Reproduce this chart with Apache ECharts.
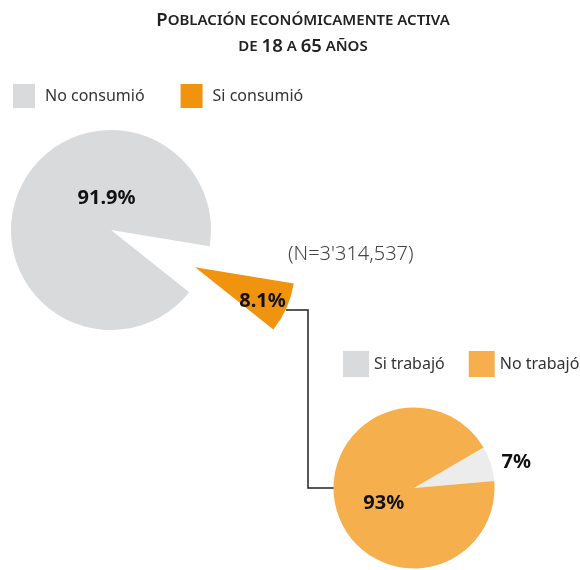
<!DOCTYPE html>
<html>
<head>
<meta charset="utf-8">
<script src="https://cdn.jsdelivr.net/npm/echarts@6/dist/echarts.min.js"></script>
<style>
  html, body { margin: 0; padding: 0; background: #fff; }
  #chart { width: 580px; height: 570px; }
</style>
</head>
<body>
<div id="chart"></div>
<script>
// datos
const consumoNames = ['No consumió', 'Si consumió'];
const consumoValues = [91.9, 8.1];
const trabajoNames = ['Si trabajó', 'No trabajó'];
const trabajoValues = [7, 93];
const totalLabel = "(N=3'314,537)";

const FONT = 'Noto Sans';
const chart = echarts.init(document.getElementById('chart'), null, { renderer: 'canvas' });

// desplazamientos de etiquetas (dx, dy) respecto a la posicion 'inside'
const shiftConsumo = [[44, -10], [19, 13]];
const shiftTrabajo = [[61, -13], [11, 2]];

chart.setOption({
  animation: false,
  title: {
    left: 298,
    top: 3,
    textAlign: 'center',
    text: '{b|P}{s|OBLACIÓN ECONÓMICAMENTE ACTIVA}\n{s|DE }{b|18}{s| A }{b|65}{s| AÑOS}',
    textStyle: {
      rich: {
        b: { fontFamily: FONT, fontSize: 18.5, fontWeight: 600, color: '#222', lineHeight: 26 },
        s: { fontFamily: FONT, fontSize: 15, fontWeight: 600, color: '#222', lineHeight: 26 }
      }
    }
  },
  legend: [
    {
      left: 8,
      top: 79,
      width: 400,
      itemWidth: 22,
      itemHeight: 24,
      itemGap: 36,
      icon: 'rect',
      selectedMode: false,
      data: consumoNames,
      textStyle: { fontFamily: FONT, fontSize: 16, color: '#333', padding: [0, 0, 0, 5] }
    },
    {
      left: 338,
      top: 346,
      width: 260,
      itemWidth: 26,
      itemHeight: 26,
      itemGap: 24,
      icon: 'rect',
      selectedMode: false,
      data: [{ name: trabajoNames[0], itemStyle: { color: '#d9dadb' } }, trabajoNames[1]],
      textStyle: { fontFamily: FONT, fontSize: 16, color: '#333' }
    }
  ],
  graphic: [
    {
      type: 'text',
      left: 288,
      top: 244,
      style: { text: totalLabel, font: '300 20px "Noto Sans"', fill: '#444' }
    },
    {
      type: 'polyline',
      shape: { points: [[286, 310], [308, 310], [308, 488], [334, 488]] },
      style: { stroke: '#222', lineWidth: 1.5, fill: null },
      z: 1
    }
  ],
  series: [
    {
      name: 'Consumo',
      type: 'pie',
      center: [111, 230],
      radius: 100,
      startAngle: -38.5,
      clockwise: true,
      selectedMode: 'single',
      selectedOffset: 92,
      emphasis: { disabled: true },
      color: ['#d9dadb', '#f0930f'],
      label: {
        position: 'inside',
        formatter: '{c}%',
        fontFamily: FONT,
        fontSize: 20,
        fontWeight: 'bold',
        color: '#111'
      },
      labelLine: { show: false },
      labelLayout: function (p) {
        const s = shiftConsumo[p.dataIndex];
        return { dx: s[0], dy: s[1] };
      },
      data: consumoNames.map((n, i) => ({ name: n, value: consumoValues[i], selected: i === 1 })),
      z: 2
    },
    {
      name: 'Trabajo',
      type: 'pie',
      center: [414, 488],
      radius: 80.5,
      startAngle: 30.2,
      clockwise: true,
      selectedMode: false,
      emphasis: { disabled: true },
      color: ['#ebeceb', '#f6af4d'],
      label: {
        position: 'inside',
        formatter: '{c}%',
        fontFamily: FONT,
        fontSize: 20,
        fontWeight: 'bold',
        color: '#111'
      },
      labelLine: { show: false },
      labelLayout: function (p) {
        const s = shiftTrabajo[p.dataIndex];
        return { dx: s[0], dy: s[1] };
      },
      data: trabajoNames.map((n, i) => ({ name: n, value: trabajoValues[i] })),
      z: 2
    }
  ]
});
</script>
</body>
</html>
